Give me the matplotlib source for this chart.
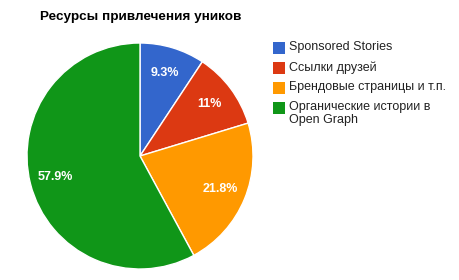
import matplotlib
matplotlib.use("Agg")
import matplotlib.pyplot as plt
import numpy as np
from matplotlib.patches import Rectangle

plt.rcParams["font.family"] = ["Liberation Sans", "DejaVu Sans"]

# Data
sources = ["Sponsored Stories", "Ссылки друзей", "Брендовые страницы и т.п.",
           "Органические истории в\nOpen Graph"]
shares = [9.3, 11.0, 21.8, 57.9]
share_labels = ["9.3%", "11%", "21.8%", "57.9%"]
colors = ["#3366cc", "#dc3912", "#ff9900", "#109618"]

fig = plt.figure(figsize=(4.59, 2.80), dpi=100)
fig.patch.set_facecolor("white")

# pie area
ax = fig.add_axes([27 / 459, 11 / 280, 226 / 459, 226 / 280])
wedges, _ = ax.pie(shares, colors=colors, startangle=90, counterclock=False,
                   wedgeprops=dict(edgecolor="white", linewidth=1))
ax.set_xlim(-1.0, 1.0)
ax.set_ylim(-1.0, 1.0)
ax.set_aspect("equal")

# percentage labels
total = sum(shares)
angle = 90.0
for val, lab in zip(shares, share_labels):
    span = 360.0 * val / total
    mid = np.deg2rad(angle - span / 2)
    r = 0.77
    ax.text(r * np.cos(mid), r * np.sin(mid), lab, color="white", fontsize=9,
            fontweight="bold", ha="center", va="center")
    angle -= span

# title
fig.text(40 / 459, 1 - 17 / 280, "Ресурсы привлечения уников", fontsize=9.7,
         fontweight="bold", ha="left", va="center")

# legend
rows_y = [48, 68, 88, 108]
for y, name, c in zip(rows_y, sources, colors):
    fig.patches.append(Rectangle((273 / 459, 1 - (y + 6) / 280), 12 / 459, 12 / 280,
                                 transform=fig.transFigure, facecolor=c,
                                 edgecolor="none"))
    fig.text(289 / 459, 1 - (y - 7) / 280, name, fontsize=9, ha="left", va="top",
             linespacing=1.15, color="#222222")

fig.savefig("out.png", dpi=100)
